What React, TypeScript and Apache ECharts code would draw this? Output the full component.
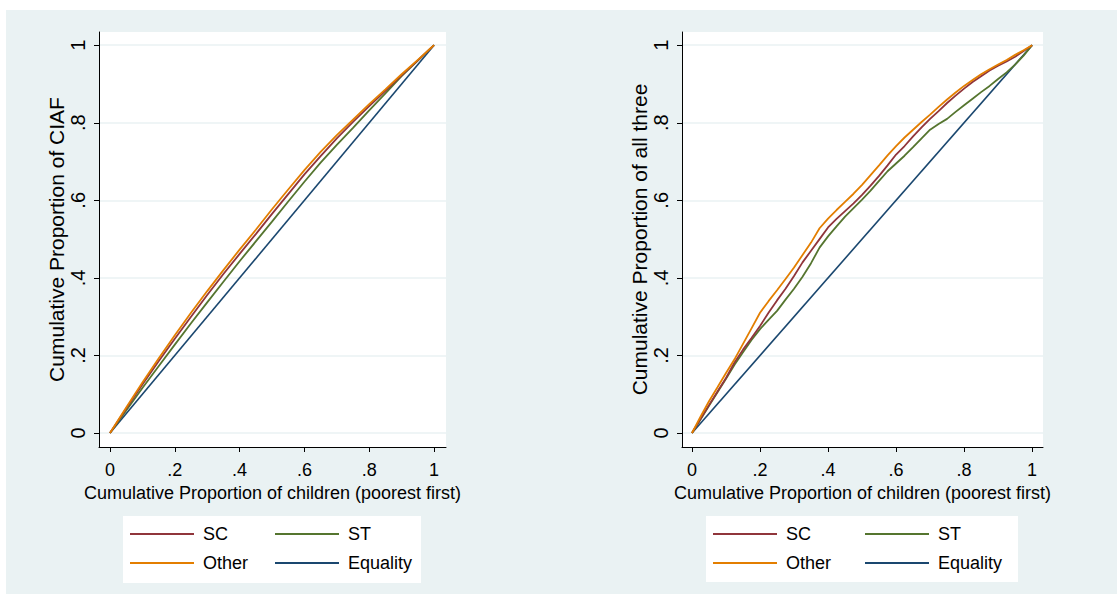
import React, { useEffect, useRef } from "react";
import * as echarts from "echarts";

// Cumulative proportion of children (poorest first)
const xLeft = [0, 0.05, 0.1, 0.15, 0.2, 0.25, 0.3, 0.35, 0.4, 0.45, 0.5, 0.55, 0.6, 0.65, 0.7, 0.75, 0.8, 0.85, 0.9, 0.95, 1];
const ciafSC = [0, 0.063, 0.125, 0.185, 0.243, 0.3, 0.356, 0.41, 0.462, 0.513, 0.565, 0.616, 0.667, 0.714, 0.76, 0.802, 0.843, 0.882, 0.922, 0.961, 1];
const ciafST = [0, 0.058, 0.116, 0.172, 0.228, 0.283, 0.337, 0.39, 0.443, 0.494, 0.545, 0.597, 0.648, 0.697, 0.743, 0.787, 0.832, 0.876, 0.92, 0.96, 1];
const ciafOther = [0, 0.066, 0.13, 0.192, 0.252, 0.31, 0.366, 0.42, 0.473, 0.524, 0.577, 0.628, 0.678, 0.725, 0.768, 0.808, 0.848, 0.886, 0.925, 0.962, 1];

const xRight = [0, 0.025, 0.05, 0.075, 0.1, 0.125, 0.15, 0.175, 0.2, 0.225, 0.25, 0.275, 0.3, 0.325, 0.35, 0.375, 0.4, 0.425, 0.45, 0.475, 0.5, 0.525, 0.55, 0.575, 0.6, 0.625, 0.65, 0.675, 0.7, 0.725, 0.75, 0.775, 0.8, 0.825, 0.85, 0.875, 0.9, 0.925, 0.95, 0.975, 1];
const allSC = [0, 0.036, 0.072, 0.107, 0.142, 0.182, 0.215, 0.245, 0.276, 0.31, 0.342, 0.372, 0.405, 0.44, 0.47, 0.5, 0.53, 0.552, 0.572, 0.592, 0.614, 0.638, 0.663, 0.69, 0.718, 0.74, 0.765, 0.788, 0.81, 0.83, 0.851, 0.87, 0.888, 0.905, 0.92, 0.935, 0.947, 0.958, 0.97, 0.985, 1];
const allST = [0, 0.035, 0.07, 0.105, 0.14, 0.176, 0.208, 0.24, 0.268, 0.292, 0.315, 0.344, 0.372, 0.403, 0.438, 0.478, 0.507, 0.533, 0.558, 0.58, 0.602, 0.625, 0.65, 0.675, 0.695, 0.715, 0.737, 0.76, 0.782, 0.797, 0.81, 0.828, 0.845, 0.862, 0.879, 0.895, 0.913, 0.93, 0.95, 0.973, 1];
const allOther = [0, 0.042, 0.082, 0.118, 0.155, 0.19, 0.23, 0.27, 0.31, 0.34, 0.368, 0.397, 0.427, 0.459, 0.491, 0.528, 0.553, 0.575, 0.596, 0.617, 0.64, 0.665, 0.69, 0.716, 0.74, 0.762, 0.782, 0.802, 0.821, 0.841, 0.86, 0.878, 0.895, 0.91, 0.925, 0.938, 0.95, 0.962, 0.975, 0.987, 1];

const equalityX = [0, 1];
const equalityY = [0, 1];

const tickValues = [0, 0.2, 0.4, 0.6, 0.8, 1];
const tickLabels = ["0", ".2", ".4", ".6", ".8", "1"];

const seriesNames = ["SC", "ST", "Other", "Equality"];
const colors: Record<string, string> = {
  SC: "#90353b",
  ST: "#55752f",
  Other: "#e37e00",
  Equality: "#1a476f",
};

const FONT = "Liberation Sans, Arial, sans-serif";
const BG = "#eaf2f3";

function pairs(xs: number[], ys: number[]) {
  return xs.map((x, i) => [x, ys[i]]);
}

export default function App() {
  const ref = useRef<HTMLDivElement>(null);
  useEffect(() => {
    document.body.style.margin = "0";
    const chart = echarts.init(ref.current!, null, { renderer: "svg" });
    const fmt = (v: number) => {
      const i = tickValues.findIndex((t) => Math.abs(t - v) < 1e-6);
      return i >= 0 ? tickLabels[i] : "";
    };
    const grids = [
      { left: 99, top: 32, width: 347, height: 415 },
      { left: 682, top: 32, width: 361, height: 415 },
    ];
    const xRanges = [
      [-0.034, 1.037],
      [-0.0294, 1.032],
    ];
    const yTitles = ["Cumulative Proportion of CIAF", "Cumulative Proportion of all three"];
    const axisLineStyle = { color: "#000", width: 1 };
    const xAxis = grids.map((g, i) => ({
      type: "value",
      gridIndex: i,
      min: xRanges[i][0],
      max: xRanges[i][1],
      name: "Cumulative Proportion of children (poorest first)",
      nameLocation: "middle",
      nameGap: 35,
      nameTextStyle: { fontFamily: FONT, fontSize: 18, color: "#000" },
      axisLine: { show: true, onZero: false, lineStyle: axisLineStyle },
      axisTick: { show: true, length: 5, lineStyle: axisLineStyle, customValues: tickValues },
      axisLabel: {
        customValues: tickValues,
        formatter: fmt,
        fontFamily: FONT,
        fontSize: 18,
        color: "#000",
        margin: 14,
      },
      splitLine: { show: false },
    }));
    const yAxis = grids.map((g, i) => ({
      type: "value",
      gridIndex: i,
      min: -0.036,
      max: 1.034,
      name: yTitles[i],
      nameLocation: "middle",
      nameGap: i === 0 ? 29 : 31,
      nameRotate: 90,
      nameTextStyle: { fontFamily: FONT, fontSize: 21, color: "#000" },
      axisLine: { show: true, onZero: false, lineStyle: axisLineStyle },
      axisTick: { show: true, length: 5, lineStyle: axisLineStyle, customValues: tickValues },
      axisLabel: {
        customValues: tickValues,
        formatter: fmt,
        rotate: 90,
        fontFamily: FONT,
        fontSize: 20,
        color: "#000",
        margin: 11,
      },
      splitLine: { show: true, lineStyle: { color: BG, width: 1.5 } },
    }));
    const data = [
      { SC: pairs(xLeft, ciafSC), ST: pairs(xLeft, ciafST), Other: pairs(xLeft, ciafOther), Equality: pairs(equalityX, equalityY) },
      { SC: pairs(xRight, allSC), ST: pairs(xRight, allST), Other: pairs(xRight, allOther), Equality: pairs(equalityX, equalityY) },
    ];
    const order = ["Equality", "ST", "SC", "Other"];
    const series: any[] = [];
    data.forEach((d: any, gi) => {
      order.forEach((name) => {
        series.push({
          type: "line",
          name,
          xAxisIndex: gi,
          yAxisIndex: gi,
          data: d[name],
          showSymbol: false,
          symbol: "none",
          lineStyle: { color: colors[name], width: name === "Equality" ? 1.6 : 1.8 },
          itemStyle: { color: colors[name] },
        });
      });
    });
    const legendBoxes = [
      { x: 123, y: 516, w: 298, h: 67, col1: 130, col2: 275 },
      { x: 706, y: 516, w: 312, h: 66, col1: 713, col2: 865 },
    ];
    const legends: any[] = [];
    legendBoxes.forEach((b) => {
      const pos = [
        { name: "SC", left: b.col1, top: 525 },
        { name: "ST", left: b.col2, top: 525 },
        { name: "Other", left: b.col1, top: 554 },
        { name: "Equality", left: b.col2, top: 554 },
      ];
      pos.forEach((p) => {
        legends.push({
          data: [p.name],
          left: p.left,
          top: p.top,
          padding: 0,
          itemWidth: 64,
          itemHeight: 2,
          itemGap: 0,
          icon: "rect",
          selectedMode: false,
          textStyle: { fontFamily: FONT, fontSize: 18, color: "#000", padding: [0, 0, 0, 4] },
        });
      });
    });
    chart.setOption({
      animation: false,
      backgroundColor: "#fff",
      color: seriesNames.map((n) => colors[n]),
      graphic: [
        { type: "rect", shape: { x: 6, y: 10, width: 1111, height: 584 }, style: { fill: BG }, z: -10, silent: true },
        ...legendBoxes.map((b) => ({
          type: "rect",
          shape: { x: b.x, y: b.y, width: b.w, height: b.h },
          style: { fill: "#fff" },
          z: -5,
          silent: true,
        })),
      ],
      grid: grids.map((g) => ({ ...g, show: true, backgroundColor: "#fff", borderWidth: 0 })),
      xAxis,
      yAxis,
      legend: legends,
      series,
    });
    return () => chart.dispose();
  }, []);
  return <div ref={ref} style={{ width: 1117, height: 594 }} />;
}
